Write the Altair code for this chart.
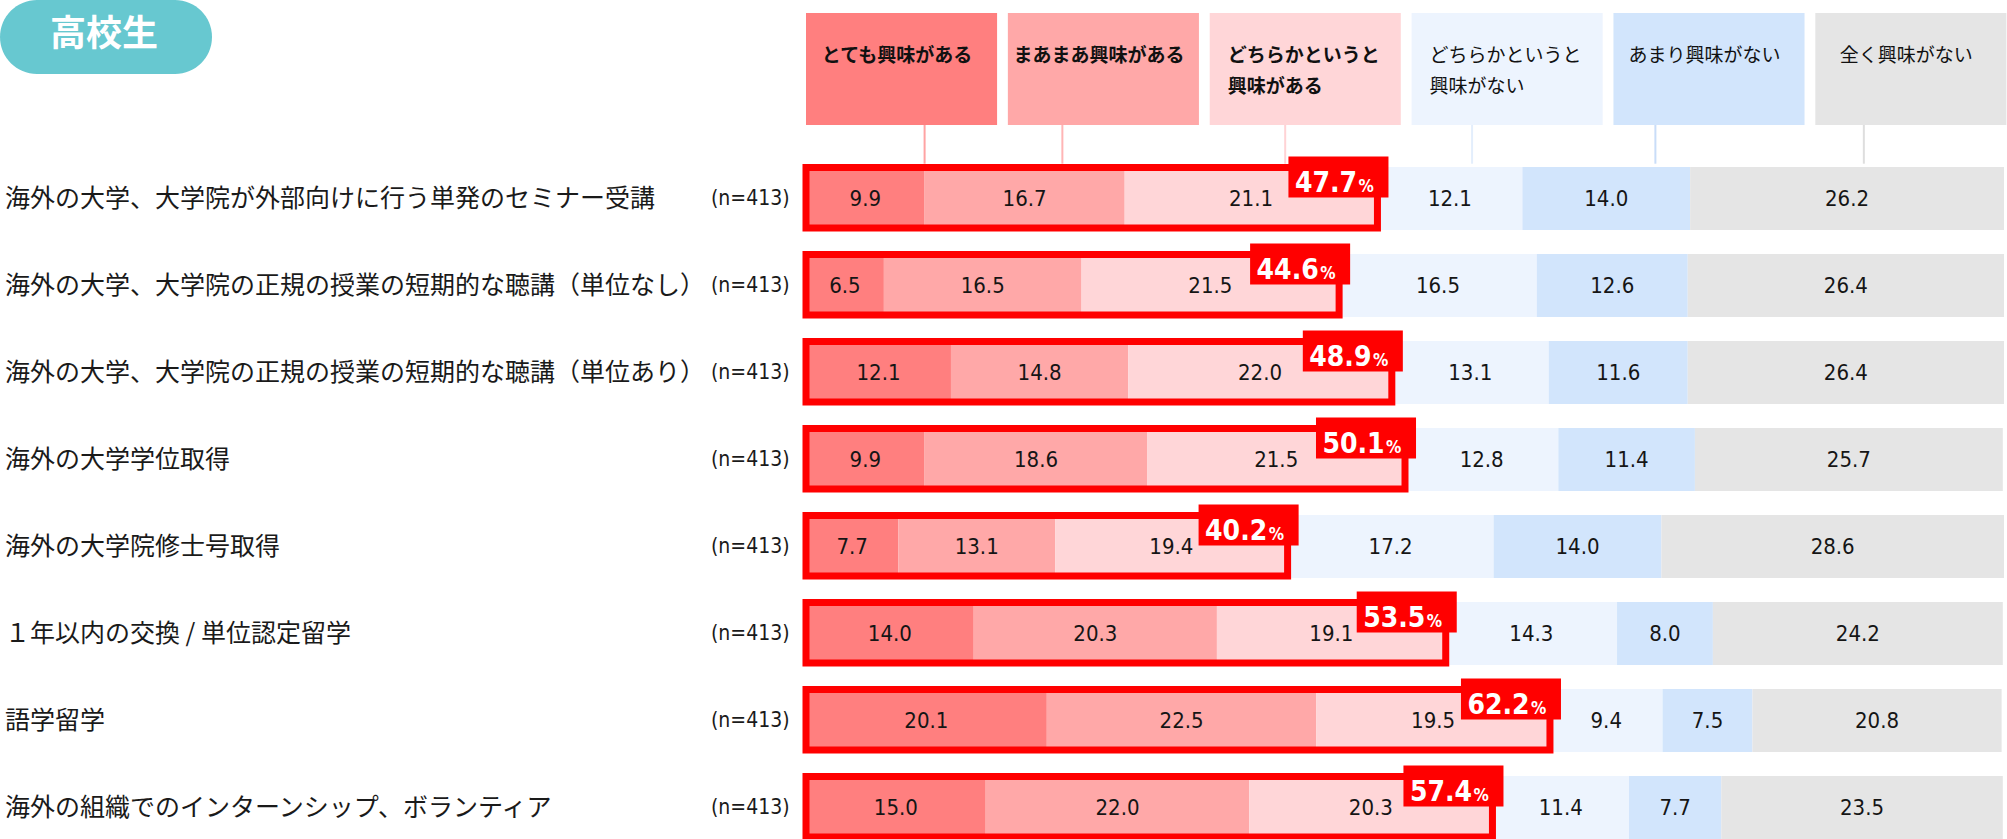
import altair as alt
import pandas as pd

# ---------------- data ----------------
items = [
    "海外の大学、大学院が外部向けに行う単発のセミナー受講",
    "海外の大学、大学院の正規の授業の短期的な聴講（単位なし）",
    "海外の大学、大学院の正規の授業の短期的な聴講（単位あり）",
    "海外の大学学位取得",
    "海外の大学院修士号取得",
    "１年以内の交換 / 単位認定留学",
    "語学留学",
    "海外の組織でのインターンシップ、ボランティア",
]
n_labels = ["(n=413)"] * 8

very = [9.9, 6.5, 12.1, 9.9, 7.7, 14.0, 20.1, 15.0]
fairly = [16.7, 16.5, 14.8, 18.6, 13.1, 20.3, 22.5, 22.0]
somewhat = [21.1, 21.5, 22.0, 21.5, 19.4, 19.1, 19.5, 20.3]
somewhat_not = [12.1, 16.5, 13.1, 12.8, 17.2, 14.3, 9.4, 11.4]
not_much = [14.0, 12.6, 11.6, 11.4, 14.0, 8.0, 7.5, 7.7]
not_at_all = [26.2, 26.4, 26.4, 25.7, 28.6, 24.2, 20.8, 23.5]
interested_total = ["47.7", "44.6", "48.9", "50.1", "40.2", "53.5", "62.2", "57.4"]

categories = [
    ["とても興味がある"],
    ["まあまあ興味がある"],
    ["どちらかというと", "興味がある"],
    ["どちらかというと", "興味がない"],
    ["あまり興味がない"],
    ["全く興味がない"],
]
cat_colors = ["#FF7F7F", "#FFA8A8", "#FFD6D8", "#EDF4FE", "#D2E5FC", "#E5E5E5"]
line_colors = ["#FFA3A3", "#FFB5B5", "#FFD3D5", "#E3EEFC", "#C9DDF8", "#DEDEDE"]
connector_pos = [9.9, 21.4, 40.0, 55.6, 70.9, 88.3]
title_text = "高校生"

# ---------------- frames ----------------
series = [very, fairly, somewhat, somewhat_not, not_much, not_at_all]
BAR_HALF = 0.362

seg_rows = []
outline_rows = []
for r in range(len(items)):
    cum = 0.0
    for c, s in enumerate(series):
        v = s[r]
        seg_rows.append(dict(row=r, start=cum, end=cum + v, mid=cum + v / 2,
                             label=f"{v:.1f}", color=cat_colors[c],
                             y0=r - BAR_HALF, y1=r + BAR_HALF))
        cum += v
    c3 = very[r] + fairly[r] + somewhat[r]
    outline_rows.append(dict(row=r, end=c3, item=items[r], n=n_labels[r],
                             pct=interested_total[r],
                             y0=r - BAR_HALF + 0.005, y1=r + 0.339,
                             bx0=c3 - 7.43, bx1=c3 + 0.92,
                             by0=r - 0.483, by1=r - 0.011,
                             tx=c3 - 1.70, px=c3 - 1.58, ty=r - 0.070))
seg_df = pd.DataFrame(seg_rows)
out_df = pd.DataFrame(outline_rows)

PITCH = 16.85
leg_rows, leg_text = [], []
for i, (lines, col) in enumerate(zip(categories, cat_colors)):
    x0 = i * PITCH
    leg_rows.append(dict(x0=x0, x1=x0 + 15.95, y0=-2.132, y1=-0.845, color=col,
                         cx=connector_pos[i], lc=line_colors[i], ly0=-0.845, ly1=-0.40))
    bold = i < 3
    if len(lines) == 1:
        leg_text.append(dict(t=lines[0], x=x0 + 7.6, y=-1.638, bold=bold, multi=False))
    else:
        for k, ln in enumerate(lines):
            leg_text.append(dict(t=ln, x=x0 + 1.5, y=-1.638 + k * 0.356, bold=bold, multi=True))
leg_df = pd.DataFrame(leg_rows)
legt_df = pd.DataFrame(leg_text)

xs = alt.Scale(domain=[0, 100], range=[806, 2004], nice=False, zero=False)
ys = alt.Scale(domain=[0, 7], range=[198.5, 807.5], nice=False, zero=False)

JP = "Noto Sans CJK JP"
NUM = "'DejaVu Sans Condensed', 'Roboto', sans-serif"

# ---------------- layers ----------------
bars = alt.Chart(seg_df).mark_rect().encode(
    x=alt.X("start:Q", scale=xs, axis=None), x2="end:Q",
    y=alt.Y("y0:Q", scale=ys, axis=None), y2="y1:Q",
    color=alt.Color("color:N", scale=None),
)
seg_labels = alt.Chart(seg_df).mark_text(font=NUM, fontSize=22, color="#151515",
                                         baseline="middle", align="center").encode(
    x=alt.X("mid:Q", scale=xs, axis=None),
    y=alt.Y("row:Q", scale=ys, axis=None),
    text="label:N",
)
outline = alt.Chart(out_df).mark_rect(fillOpacity=0, stroke="#FF0000", strokeWidth=7).encode(
    x=alt.X("start0:Q", scale=xs, axis=None), x2="end:Q",
    y=alt.Y("y0:Q", scale=ys, axis=None), y2="y1:Q",
).transform_calculate(start0="0")
pct_box = alt.Chart(out_df).mark_rect(color="#FF0000").encode(
    x=alt.X("bx0:Q", scale=xs, axis=None), x2="bx1:Q",
    y=alt.Y("by0:Q", scale=ys, axis=None), y2="by1:Q",
)
pct_num = alt.Chart(out_df).mark_text(font=NUM, fontSize=28, fontWeight="bold", color="white",
                                      align="right", baseline="alphabetic").encode(
    x=alt.X("tx:Q", scale=xs, axis=None),
    y=alt.Y("ty:Q", scale=ys, axis=None),
    text="pct:N",
)
pct_sign = alt.Chart(out_df).mark_text(font=NUM, fontSize=17, fontWeight="bold", color="white",
                                       align="left", baseline="alphabetic", text="%").encode(
    x=alt.X("px:Q", scale=xs, axis=None),
    y=alt.Y("ty:Q", scale=ys, axis=None),
)
row_labels = alt.Chart(out_df).mark_text(font=JP, fontSize=25, color="#1a1a1a",
                                         align="left", baseline="middle").encode(
    x=alt.value(5),
    y=alt.Y("row:Q", scale=ys, axis=None),
    text="item:N",
)
n_text = alt.Chart(out_df).mark_text(font=NUM, fontSize=21, color="#1a1a1a",
                                     align="left", baseline="middle").encode(
    x=alt.value(711),
    y=alt.Y("row:Q", scale=ys, axis=None),
    text="n:N",
)
leg_boxes = alt.Chart(leg_df).mark_rect().encode(
    x=alt.X("x0:Q", scale=xs, axis=None), x2="x1:Q",
    y=alt.Y("y0:Q", scale=ys, axis=None), y2="y1:Q",
    color=alt.Color("color:N", scale=None),
)
connectors = alt.Chart(leg_df).mark_rule(strokeWidth=2).encode(
    x=alt.X("cx:Q", scale=xs, axis=None),
    y=alt.Y("ly0:Q", scale=ys, axis=None), y2="ly1:Q",
    color=alt.Color("lc:N", scale=None),
)


def leg_layer(bold, multi):
    return alt.Chart(legt_df).transform_filter(
        f"datum.bold == {str(bold).lower()} && datum.multi == {str(multi).lower()}"
    ).mark_text(font=JP, fontSize=19, fontWeight="bold" if bold else "normal",
                color="#111111", align="left" if multi else "center",
                baseline="middle").encode(
        x=alt.X("x:Q", scale=xs, axis=None),
        y=alt.Y("y:Q", scale=ys, axis=None),
        text="t:N",
    )


title_df = pd.DataFrame({"t": [title_text]})
pill = alt.Chart(title_df).mark_rect(color="#67C8D0", cornerRadius=37).encode(
    x=alt.value(0), x2=alt.value(212), y=alt.value(0), y2=alt.value(74),
)
pill_text = alt.Chart(title_df).mark_text(font=JP, fontSize=36, fontWeight="bold",
                                          color="white", align="center",
                                          baseline="middle").encode(
    x=alt.value(104), y=alt.value(35), text="t:N",
)

chart = alt.layer(
    leg_boxes, connectors,
    leg_layer(True, False), leg_layer(True, True),
    leg_layer(False, True), leg_layer(False, False),
    bars, seg_labels, outline, pct_box, pct_num, pct_sign,
    row_labels, n_text, pill, pill_text,
).properties(
    width=2007, height=839, padding=0, autosize="none", background="white",
).configure_view(stroke=None)

chart.save("out.html", embed_options={"renderer": "svg", "actions": False})
